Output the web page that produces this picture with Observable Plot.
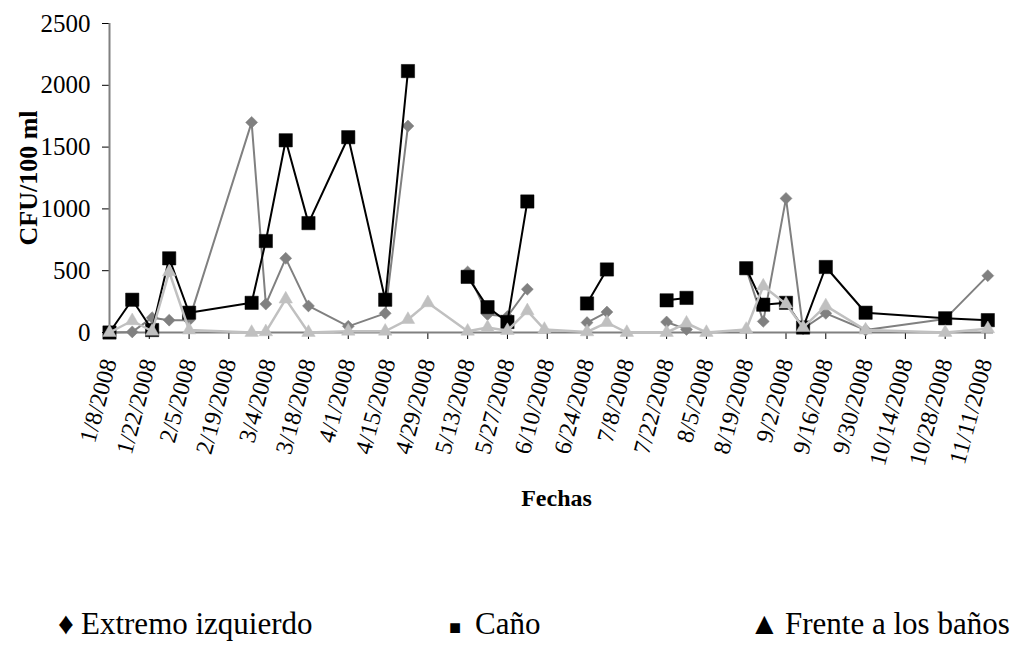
<!DOCTYPE html>
<html>
<head>
<meta charset="utf-8">
<script src="https://cdn.jsdelivr.net/npm/d3@7"></script>
<script src="https://cdn.jsdelivr.net/npm/@observablehq/plot@0.6"></script>
<style>
  html, body { margin: 0; padding: 0; background: #ffffff; }
  #wrap { width: 1016px; font-family: "Liberation Serif", "Times New Roman", serif; color: #000; }
  #legend { position: relative; width: 1016px; height: 72px; font-size: 31px; line-height: 30px; }
  #legend span { position: absolute; top: 9px; white-space: nowrap; }
  #legend .sq { font-size: 20px; top: 12px; }
</style>
</head>
<body>
<div id="wrap">
  <div id="chart"></div>
  <div id="legend">
    <span style="left:58px">♦</span><span style="left:81px">Extremo izquierdo</span>
    <span class="sq" style="left:449px">■</span><span style="left:475px">Caño</span>
    <span style="left:749px">▲</span><span style="left:785px">Frente a los baños</span>
  </div>
</div>
<script>
// Sampling dates (M/D/YYYY)
const fechas = [
  "1/8/2008", "1/16/2008", "1/23/2008", "1/29/2008", "2/5/2008", "2/27/2008",
  "3/3/2008", "3/10/2008", "3/18/2008", "4/1/2008", "4/14/2008", "4/22/2008",
  "4/29/2008", "5/13/2008", "5/20/2008", "5/27/2008", "6/3/2008", "6/9/2008",
  "6/24/2008", "7/1/2008", "7/8/2008", "7/22/2008", "7/29/2008", "8/5/2008",
  "8/19/2008", "8/25/2008", "9/2/2008", "9/8/2008", "9/16/2008", "9/30/2008",
  "10/28/2008", "11/12/2008"
];

// CFU/100 ml per site (null = no sample)
const extremoIzquierdo = [
  0, 5, 120, 100, 100, 1700,
  230, 600, 215, 50, 155, 1670,
  null, 490, 145, 130, 350, null,
  80, 165, null, 85, 25, null,
  515, 90, 1085, 30, 155, 20,
  110, 460
];
const cano = [
  0, 265, 20, 600, 160, 240,
  740, 1555, 885, 1580, 265, 2115,
  null, 450, 205, 85, 1060, null,
  235, 510, null, 260, 280, null,
  520, 225, 240, 40, 530, 160,
  115, 100
];
const frenteBanos = [
  0, 95, 10, 490, 20, 0,
  5, 270, 0, 10, 10, 105,
  240, 10, 40, 15, 175, 25,
  5, 80, 0, 0, 75, 0,
  25, 375, 230, 40, 215, 20,
  0, 30
];

// Axis ticks
const xTickLabels = [
  "1/8/2008", "1/22/2008", "2/5/2008", "2/19/2008", "3/4/2008", "3/18/2008",
  "4/1/2008", "4/15/2008", "4/29/2008", "5/13/2008", "5/27/2008", "6/10/2008",
  "6/24/2008", "7/8/2008", "7/22/2008", "8/5/2008", "8/19/2008", "9/2/2008",
  "9/16/2008", "9/30/2008", "10/14/2008", "10/28/2008", "11/11/2008"
];
const yTicks = [0, 500, 1000, 1500, 2000, 2500];

const parseMDY = (s) => {
  const [m, d, y] = s.split("/").map(Number);
  return new Date(Date.UTC(y, m - 1, d));
};
const fmtMDY = (d) => `${d.getUTCMonth() + 1}/${d.getUTCDate()}/${d.getUTCFullYear()}`;

const dates = fechas.map(parseMDY);
const xTicks = xTickLabels.map(parseMDY);
const xDomain = [parseMDY("1/8/2008"), parseMDY("11/14/2008")];

const rows = (values) => dates.map((date, i) => ({date, value: values[i]}));
const serieA = rows(extremoIzquierdo);
const serieB = rows(cano);
const serieC = rows(frenteBanos);

const chart = Plot.plot({
  width: 1016,
  height: 600,
  marginTop: 23,
  marginLeft: 109,
  marginRight: 23,
  marginBottom: 268,
  style: {fontFamily: "'Liberation Serif', 'Times New Roman', serif", fontSize: "24px", background: "#ffffff", color: "#000"},
  x: {type: "utc", domain: xDomain},
  y: {domain: [0, 2500]},
  marks: [
    Plot.axisY({ticks: yTicks, tickSize: 7, tickPadding: 12, tickFormat: (d) => String(d), label: null, fontSize: 25}),
    Plot.axisX({
      ticks: xTicks, tickSize: 7, tickPadding: 20, tickRotate: -75,
      textAnchor: "end", lineAnchor: "middle",
      tickFormat: fmtMDY, label: null, fontSize: 24
    }),
    Plot.ruleY([0], {stroke: "#808080", strokeWidth: 2}),
    Plot.ruleX([xDomain[0]], {stroke: "#808080", strokeWidth: 2}),
    Plot.text(["CFU/100 ml"], {frameAnchor: "left", textAnchor: "middle", dx: -81, rotate: -90, fontWeight: "bold", fontSize: 26}),
    Plot.text(["Fechas"], {frameAnchor: "bottom", dx: 5, dy: 173, fontWeight: "bold", fontSize: 24}),

    // Extremo izquierdo
    Plot.line(serieA, {x: "date", y: "value", stroke: "#808080", strokeWidth: 2}),
    Plot.dot(serieA, {x: "date", y: "value", symbol: "diamond2", r: 5.4, fill: "#808080", stroke: "#808080", strokeWidth: 0.5}),
    // Caño
    Plot.line(serieB, {x: "date", y: "value", stroke: "#000000", strokeWidth: 2}),
    Plot.dot(serieB, {x: "date", y: "value", symbol: "square", r: 7.5, fill: "#000000", stroke: "#000000", strokeWidth: 0.5}),
    // Frente a los baños
    Plot.line(serieC, {x: "date", y: "value", stroke: "#c0c0c0", strokeWidth: 2.5}),
    Plot.dot(serieC, {x: "date", y: "value", symbol: "triangle", r: 5, fill: "#c0c0c0", stroke: "#c0c0c0", strokeWidth: 0.5})
  ]
});
document.getElementById("chart").appendChild(chart);
</script>
</body>
</html>
